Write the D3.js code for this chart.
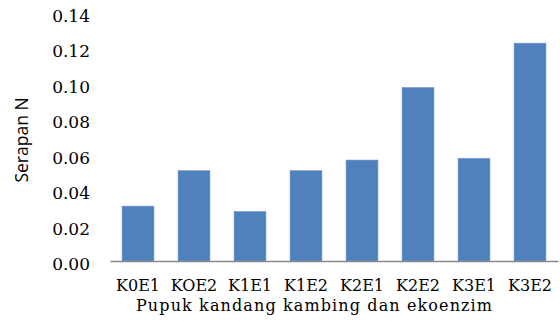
<!DOCTYPE html>
<html><head><meta charset="utf-8">
<script src="https://cdn.jsdelivr.net/npm/d3@7"></script>
<style>html,body{margin:0;padding:0;background:#fff;}svg{display:block;}</style>
</head><body>
<svg id="chart" width="560" height="325"></svg>
<script>
const categories = ["K0E1","KOE2","K1E1","K1E2","K2E1","K2E2","K3E1","K3E2"];
const values = [0.031, 0.051, 0.028, 0.051, 0.057, 0.098, 0.058, 0.123];
const yTicks = [0, 0.02, 0.04, 0.06, 0.08, 0.10, 0.12, 0.14];
const xTitle = "Pupuk kandang kambing dan ekoenzim";
const yTitle = "Serapan N";

const svg = d3.select("#chart");
const x = d3.scaleBand().domain(categories).range([110, 558]).paddingInner(0.43).paddingOuter(0.215);
const y = d3.scaleLinear().domain([0, 0.14]).range([261, 13]);
const serif = "'DejaVu Serif', serif";

svg.append("g").selectAll("rect").data(values).join("rect")
  .attr("x", (d,i) => x(categories[i]))
  .attr("width", x.bandwidth())
  .attr("y", d => y(d))
  .attr("height", d => y(0) - y(d))
  .attr("fill", "#4F81BD")
  .attr("stroke", "#7FA0D0").attr("stroke-width", 0.6);

// x axis
const xAxis = svg.append("g").attr("transform", `translate(0,${y(0)})`)
  .call(d3.axisBottom(x).tickSize(0).tickPadding(0));
xAxis.select(".domain").attr("stroke", "#888").attr("stroke-width", 1.6);
xAxis.selectAll("text").attr("font-family", serif).attr("font-size", 16)
  .attr("fill", "#000").attr("dy", null).attr("y", 30);

// y axis
const yAxis = svg.append("g").attr("transform", "translate(90,0)")
  .call(d3.axisLeft(y).tickValues(yTicks).tickFormat(d3.format(".2f")).tickSize(0).tickPadding(0));
yAxis.select(".domain").remove();
yAxis.selectAll("text").attr("font-family", serif).attr("font-size", 17)
  .attr("fill", "#000").attr("dy", "0.5em");

const xt = svg.append("text").attr("x", 314).attr("y", 310.5).attr("text-anchor", "middle")
  .attr("font-family", serif).attr("font-size", 16).attr("fill", "#000").text(xTitle);
const w = xt.node().getComputedTextLength();
if (w < 350) xt.attr("textLength", 356).attr("lengthAdjust", "spacing");

svg.append("text").attr("transform", "translate(28,140) rotate(-90)").attr("text-anchor", "middle")
  .attr("font-family", "'Open Sans', sans-serif").attr("font-size", 17.5).attr("fill", "#000").text(yTitle);
</script>
</body></html>
